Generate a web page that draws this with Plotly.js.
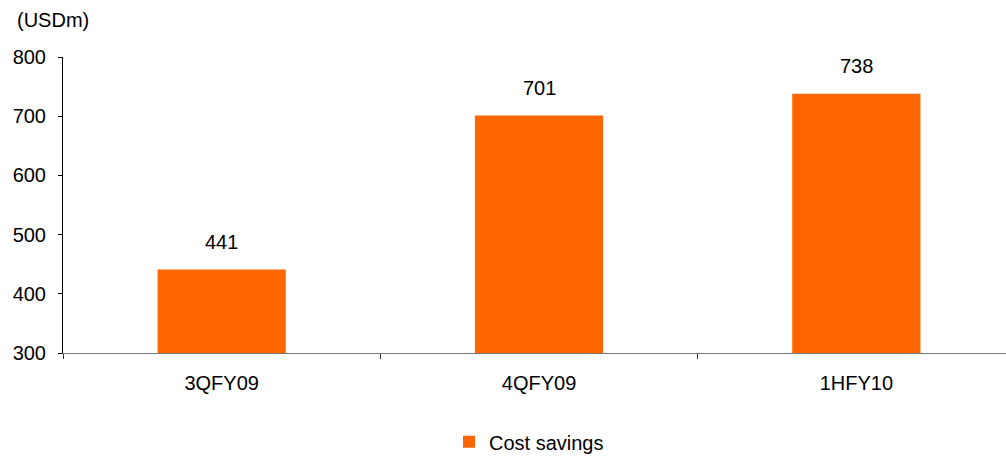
<!DOCTYPE html>
<html>
<head>
<meta charset="utf-8">
<script src="https://cdn.plot.ly/plotly-3.0.1.min.js"></script>
<style>
  html, body { margin: 0; padding: 0; background: #fff; overflow: hidden; }
  #chart { width: 1020px; height: 457px; }
</style>
</head>
<body>
<div id="chart"></div>
<script>
// Cost savings by period, in USD millions
const periods = ['3QFY09', '4QFY09', '1HFY10'];
const costSavings = [441, 701, 738];
const yTicks = [300, 400, 500, 600, 700, 800];
const seriesName = 'Cost savings';
const unitLabel = '(USDm)';

const FONT = 'Liberation Sans, Arial, sans-serif';
const ORANGE = '#FF6600';

const trace = {
  type: 'bar',
  x: periods,
  y: costSavings,
  name: seriesName,
  marker: { color: ORANGE },
  width: 0.404,
  hoverinfo: 'x+y'
};

// value labels above each bar
const valueLabels = periods.map((p, i) => ({
  x: p,
  y: costSavings[i],
  xref: 'x',
  yref: 'y',
  text: String(costSavings[i]),
  showarrow: false,
  yanchor: 'middle',
  yshift: 28,
  font: { family: FONT, size: 20, color: '#000' }
}));

const layout = {
  width: 1020,
  height: 457,
  margin: { l: 63, r: 5, t: 57, b: 104, autoexpand: false },
  paper_bgcolor: '#fff',
  plot_bgcolor: '#fff',
  font: { family: FONT, size: 20, color: '#000' },
  showlegend: true,
  legend: {
    orientation: 'h',
    x: 0.4895,
    xanchor: 'center',
    y: -0.30,
    yanchor: 'middle',
    font: { family: FONT, size: 20, color: '#000' },
    itemclick: false
  },
  xaxis: {
    type: 'category',
    range: [-0.5, 2.5],
    showline: true,
    linecolor: '#777',
    linewidth: 1,
    ticks: 'outside',
    tickson: 'boundaries',
    ticklen: 5,
    tickcolor: '#333',
    showgrid: false,
    zeroline: false,
    ticklabelstandoff: 12,
    tickfont: { family: FONT, size: 20, color: '#000' }
  },
  yaxis: {
    range: [300, 800],
    tickvals: yTicks,
    ticktext: yTicks.map(String),
    showline: true,
    linecolor: '#000',
    linewidth: 1,
    ticks: 'outside',
    ticklen: 4,
    tickcolor: '#000',
    showgrid: false,
    zeroline: false,
    ticklabelstandoff: 8,
    tickfont: { family: FONT, size: 20, color: '#000' }
  },
  annotations: valueLabels.concat([{
    xref: 'paper',
    yref: 'paper',
    x: 0,
    y: 1,
    xanchor: 'left',
    yanchor: 'middle',
    xshift: -48,
    yshift: 37,
    text: unitLabel,
    showarrow: false,
    font: { family: FONT, size: 20, color: '#000' }
  }]),
  bargap: 0.6
};

Plotly.newPlot('chart', [trace], layout, { displayModeBar: false, staticPlot: true });
</script>
</body>
</html>
